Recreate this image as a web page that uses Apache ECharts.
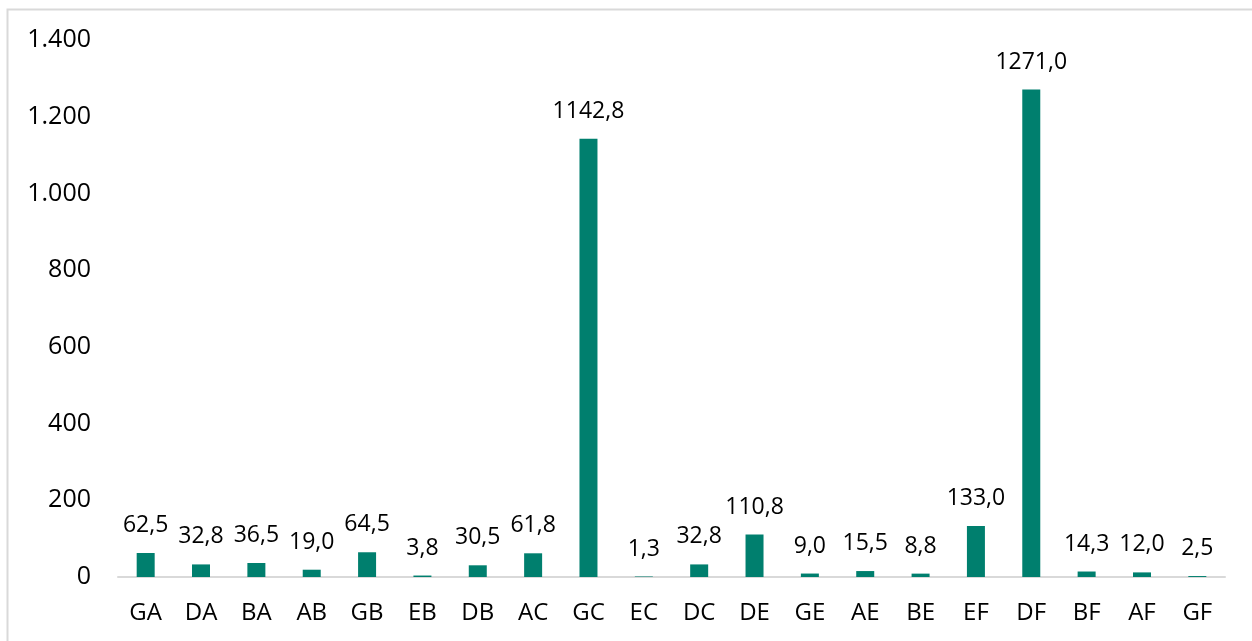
<!DOCTYPE html>
<html>
<head>
<meta charset="utf-8">
<script src="https://cdn.jsdelivr.net/npm/echarts@6/dist/echarts.min.js"></script>
<style>
html,body{margin:0;padding:0;background:#fff;}
#c{width:1252px;height:641px;}
</style>
</head>
<body>
<div id="c"></div>
<script>
const categories = ['GA','DA','BA','AB','GB','EB','DB','AC','GC','EC','DC','DE','GE','AE','BE','EF','DF','BF','AF','GF'];
const values = [62.5,32.8,36.5,19.0,64.5,3.8,30.5,61.8,1142.8,1.3,32.8,110.8,9.0,15.5,8.8,133.0,1271.0,14.3,12.0,2.5];
const yMin = 0, yMax = 1400, yStep = 200;

const font = '"Open Sans", "Liberation Sans", sans-serif';
const chart = echarts.init(document.getElementById('c'), null, {renderer: 'canvas'});
chart.setOption({
  animation: false,
  backgroundColor: '#fff',
  graphic: [{
    type: 'rect',
    shape: {x: 7.5, y: 9.5, width: 1260, height: 660},
    style: {fill: 'none', stroke: '#d9d9d9', lineWidth: 2},
    silent: true
  }],
  grid: {left: 118, right: 27, top: 40, bottom: 64, containLabel: false},
  xAxis: {
    type: 'category',
    data: categories,
    axisLine: {show: true, lineStyle: {color: '#d9d9d9', width: 2}},
    axisTick: {show: false},
    axisLabel: {color: '#000', fontSize: 24, fontFamily: font, margin: 24}
  },
  yAxis: {
    type: 'value',
    min: yMin, max: yMax, interval: yStep,
    axisLine: {show: false},
    axisTick: {show: false},
    splitLine: {show: false},
    axisLabel: {
      color: '#000', fontSize: 25, fontFamily: font, margin: 27,
      formatter: v => v.toLocaleString('de-DE')
    }
  },
  series: [{
    type: 'bar',
    data: values,
    barWidth: 18,
    itemStyle: {color: '#007F6E'},
    label: {
      show: true, position: 'top', distance: 16,
      color: '#000', fontSize: 23, fontFamily: font,
      formatter: p => p.value.toFixed(1).replace('.', ',')
    }
  }]
});
</script>
</body>
</html>
